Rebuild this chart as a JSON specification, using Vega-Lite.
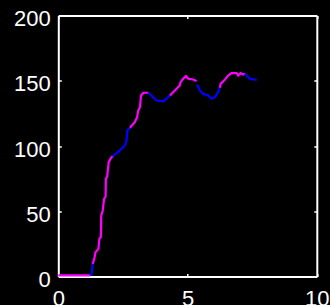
{
  "$schema": "https://vega.github.io/schema/vega-lite/v6.json",
  "width": 258.5,
  "height": 261,
  "autosize": "none",
  "padding": {"left": 58.3, "top": 15.5, "right": 13.2, "bottom": 28.5},
  "background": "black",
  "config": {
    "view": {"stroke": null},
    "axis": {
      "domain": true,
      "domainColor": "white",
      "domainWidth": 2,
      "grid": false,
      "ticks": true,
      "tickColor": "white",
      "tickSize": -3,
      "tickWidth": 1.5,
      "labelColor": "white",
      "labelFont": "Liberation Sans",
      "labelFontSize": 22,
      "title": null,
      "zindex": 0
    }
  },
  "data": {
    "values": [
      {"x": 0, "y": 0.8, "s": 1, "c": "m"},
      {"x": 1.23, "y": 0.8, "s": 1, "c": "m"},
      {"x": 1.23, "y": 0.8, "s": 2, "c": "b"},
      {"x": 1.29, "y": 2, "s": 2, "c": "b"},
      {"x": 1.33, "y": 9.7, "s": 2, "c": "b"},
      {"x": 1.33, "y": 9.7, "s": 3, "c": "m"},
      {"x": 1.39, "y": 13.5, "s": 3, "c": "m"},
      {"x": 1.44, "y": 18.6, "s": 3, "c": "m"},
      {"x": 1.55, "y": 21.2, "s": 3, "c": "m"},
      {"x": 1.59, "y": 28.9, "s": 3, "c": "m"},
      {"x": 1.65, "y": 30.6, "s": 3, "c": "m"},
      {"x": 1.66, "y": 46.7, "s": 3, "c": "m"},
      {"x": 1.72, "y": 50.6, "s": 3, "c": "m"},
      {"x": 1.77, "y": 59.5, "s": 3, "c": "m"},
      {"x": 1.83, "y": 61.3, "s": 3, "c": "m"},
      {"x": 1.84, "y": 74.9, "s": 3, "c": "m"},
      {"x": 1.89, "y": 76.6, "s": 3, "c": "m"},
      {"x": 1.95, "y": 87.6, "s": 3, "c": "m"},
      {"x": 2.02, "y": 90.2, "s": 3, "c": "m"},
      {"x": 2.1, "y": 92.2, "s": 3, "c": "m"},
      {"x": 2.1, "y": 92.2, "s": 4, "c": "b"},
      {"x": 2.26, "y": 94.5, "s": 4, "c": "b"},
      {"x": 2.58, "y": 100.4, "s": 4, "c": "b"},
      {"x": 2.64, "y": 104, "s": 4, "c": "b"},
      {"x": 2.67, "y": 111.9, "s": 4, "c": "b"},
      {"x": 2.77, "y": 114, "s": 4, "c": "b"},
      {"x": 2.77, "y": 114, "s": 5, "c": "m"},
      {"x": 2.96, "y": 118.2, "s": 5, "c": "m"},
      {"x": 3.05, "y": 122, "s": 5, "c": "m"},
      {"x": 3.09, "y": 127.2, "s": 5, "c": "m"},
      {"x": 3.16, "y": 129.7, "s": 5, "c": "m"},
      {"x": 3.2, "y": 138.7, "s": 5, "c": "m"},
      {"x": 3.29, "y": 140.8, "s": 5, "c": "m"},
      {"x": 3.48, "y": 140.8, "s": 5, "c": "m"},
      {"x": 3.48, "y": 140.8, "s": 6, "c": "b"},
      {"x": 3.54, "y": 140, "s": 6, "c": "b"},
      {"x": 3.67, "y": 137.4, "s": 6, "c": "b"},
      {"x": 3.8, "y": 134.9, "s": 6, "c": "b"},
      {"x": 4.06, "y": 134.3, "s": 6, "c": "b"},
      {"x": 4.19, "y": 136.2, "s": 6, "c": "b"},
      {"x": 4.32, "y": 138.7, "s": 6, "c": "b"},
      {"x": 4.32, "y": 138.7, "s": 7, "c": "m"},
      {"x": 4.51, "y": 142.5, "s": 7, "c": "m"},
      {"x": 4.7, "y": 146.4, "s": 7, "c": "m"},
      {"x": 4.73, "y": 148.9, "s": 7, "c": "m"},
      {"x": 4.83, "y": 151.5, "s": 7, "c": "m"},
      {"x": 4.94, "y": 153.5, "s": 7, "c": "m"},
      {"x": 5.03, "y": 151.5, "s": 7, "c": "m"},
      {"x": 5.22, "y": 151, "s": 7, "c": "m"},
      {"x": 5.35, "y": 149.7, "s": 7, "c": "m"},
      {"x": 5.37, "y": 147.1, "s": 8, "c": "b"},
      {"x": 5.48, "y": 142.5, "s": 8, "c": "b"},
      {"x": 5.6, "y": 140, "s": 8, "c": "b"},
      {"x": 5.8, "y": 138.7, "s": 8, "c": "b"},
      {"x": 5.93, "y": 136.2, "s": 8, "c": "b"},
      {"x": 6.06, "y": 137.4, "s": 8, "c": "b"},
      {"x": 6.18, "y": 141.2, "s": 8, "c": "b"},
      {"x": 6.25, "y": 144.6, "s": 8, "c": "b"},
      {"x": 6.25, "y": 144.6, "s": 9, "c": "m"},
      {"x": 6.28, "y": 147.6, "s": 9, "c": "m"},
      {"x": 6.44, "y": 150.7, "s": 9, "c": "m"},
      {"x": 6.57, "y": 154, "s": 9, "c": "m"},
      {"x": 6.7, "y": 155.8, "s": 9, "c": "m"},
      {"x": 6.9, "y": 155.8, "s": 9, "c": "m"},
      {"x": 6.96, "y": 154, "s": 9, "c": "m"},
      {"x": 7.05, "y": 155.8, "s": 9, "c": "m"},
      {"x": 7.15, "y": 154.8, "s": 9, "c": "m"},
      {"x": 7.22, "y": 155.3, "s": 9, "c": "m"},
      {"x": 7.22, "y": 155.3, "s": 10, "c": "b"},
      {"x": 7.28, "y": 154, "s": 10, "c": "b"},
      {"x": 7.41, "y": 151.5, "s": 10, "c": "b"},
      {"x": 7.67, "y": 150.7, "s": 10, "c": "b"}
    ]
  },
  "layer": [
    {
      "mark": {"type": "line", "strokeWidth": 2.2},
      "encoding": {
        "x": {"field": "x", "type": "quantitative", "scale": {"domain": [0, 10], "nice": false},
              "axis": {"orient": "bottom", "values": [0, 5, 10], "labelPadding": 15, "labelFlush": false}},
        "y": {"field": "y", "type": "quantitative", "scale": {"domain": [0, 200], "nice": false},
              "axis": {"orient": "left", "values": [0, 50, 100, 150, 200], "labelPadding": 11, "labelOffset": 3}},
        "color": {"field": "c", "type": "nominal", "scale": {"domain": ["m", "b"], "range": ["#ff00ff", "#0000ff"]}, "legend": null},
        "detail": {"field": "s", "type": "nominal"}
      }
    },
    {
      "mark": {"type": "point", "opacity": 0},
      "encoding": {
        "x": {"field": "x", "type": "quantitative", "scale": {"domain": [0, 10], "nice": false},
              "axis": {"orient": "top", "values": [0, 5, 10], "labels": false}},
        "y": {"field": "y", "type": "quantitative", "scale": {"domain": [0, 200], "nice": false},
              "axis": {"orient": "right", "values": [0, 50, 100, 150, 200], "labels": false}}
      }
    }
  ],
  "resolve": {"axis": {"x": "independent", "y": "independent"}}
}
